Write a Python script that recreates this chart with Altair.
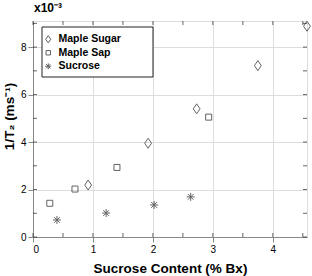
import altair as alt
import pandas as pd

# values in units of 1e-3 ms^-1
sugar_x = [0.92, 1.92, 2.73, 3.75, 4.57]
sugar_y = [2.19, 3.95, 5.40, 7.22, 8.88]
sap_x = [0.28, 0.70, 1.40, 2.93]
sap_y = [1.42, 2.02, 2.93, 5.05]
suc_x = [0.40, 1.22, 2.02, 2.63]
suc_y = [0.72, 1.01, 1.35, 1.69]
series = ["Maple Sugar", "Maple Sap", "Sucrose"]

x_ticks = [0, 0.5, 1, 1.5, 2, 2.5, 3, 3.5, 4, 4.5]
y_ticks = [0, 1, 2, 3, 4, 5, 6, 7, 8, 9]
x_labels = [0, 1, 2, 3, 4]
y_labels = [0, 2, 4, 6, 8]

W, H = 274, 216
FONT = "Liberation Sans"
INK = "#222222"

rows = []
for xs, ys, name in [(sugar_x, sugar_y, series[0]), (sap_x, sap_y, series[1]), (suc_x, suc_y, series[2])]:
    for a, b in zip(xs, ys):
        rows.append({"x": a, "y": b, "s": name})
df = pd.DataFrame(rows)

diamond = "M0,-1L0.68,0L0,1L-0.68,0Z"
square = "M-0.6,-0.6L0.6,-0.6L0.6,0.6L-0.6,0.6Z"
asterisk = "M-0.8,0L0.8,0M0,-0.8L0,0.8M-0.57,-0.57L0.57,0.57M-0.57,0.57L0.57,-0.57"

xscale = alt.Scale(domain=[0, 4.57], nice=False, zero=False)
yscale = alt.Scale(domain=[0, 9.1], nice=False, zero=False)

xaxis = alt.Axis(values=x_labels, title="Sucrose Content (% Bx)", format="d",
                 titlePadding=7, titleFontSize=13.5)
yaxis = alt.Axis(values=y_labels, title="1/T\u2082 (ms\u207b\u00b9)", format="d",
                 titlePadding=4, titleFontSize=13.5, titleY=95)

legend_box = alt.Chart(pd.DataFrame({"a": [0]})).mark_rect(
    fill="white", stroke=INK, strokeWidth=1
).encode(x=alt.value(9), x2=alt.value(120), y=alt.value(6), y2=alt.value(56))

points = alt.Chart(df).mark_point(filled=False, size=100, strokeWidth=1, color=INK).encode(
    x=alt.X("x:Q", scale=xscale, axis=xaxis),
    y=alt.Y("y:Q", scale=yscale, axis=yaxis),
    shape=alt.Shape("s:N", scale=alt.Scale(domain=series, range=[diamond, square, asterisk]),
                    legend=alt.Legend(orient="none", legendX=10, legendY=13, title=None,
                                      symbolSize=55, symbolStrokeColor=INK, symbolStrokeWidth=1,
                                      symbolFillColor="transparent",
                                      labelFont=FONT, labelFontWeight="bold", labelFontSize=10.5,
                                      labelColor="black", labelOffset=5, rowPadding=2.5, padding=0)),
)

xt = pd.DataFrame({"v": x_ticks})
yt = pd.DataFrame({"v": y_ticks})
tick_b = alt.Chart(xt).mark_tick(orient="vertical", size=4, thickness=1, color=INK).encode(
    x=alt.X("v:Q", scale=xscale), y=alt.value(H - 2))
tick_t = alt.Chart(xt).mark_tick(orient="vertical", size=4, thickness=1, color=INK).encode(
    x=alt.X("v:Q", scale=xscale), y=alt.value(2))
tick_l = alt.Chart(yt).mark_tick(orient="horizontal", size=4, thickness=1, color=INK).encode(
    y=alt.Y("v:Q", scale=yscale), x=alt.value(2))
tick_r = alt.Chart(yt).mark_tick(orient="horizontal", size=4, thickness=1, color=INK).encode(
    y=alt.Y("v:Q", scale=yscale), x=alt.value(W - 2))

exp_label = alt.Chart(pd.DataFrame({"t": ["x10\u207b\u00b3"]})).mark_text(
    align="left", baseline="middle", font=FONT, fontWeight="bold", fontSize=12, color="black"
).encode(text="t:N", x=alt.value(1), y=alt.value(-13))

chart = alt.layer(legend_box, tick_b, tick_t, tick_l, tick_r, points, exp_label).properties(
    width=W, height=H,
    autosize=alt.AutoSizeParams(type="none"),
    padding={"left": 33, "top": 21, "right": 5, "bottom": 39},
).configure_view(stroke=INK, strokeWidth=1).configure_axis(
    domain=False, ticks=False, grid=False,
    labelFont=FONT, labelFontWeight="bold", labelFontSize=12, labelColor="black", labelPadding=5,
    titleFont=FONT, titleFontWeight="bold", titleColor="black",
).configure(background="white")

chart.save("out.html", embed_options={"renderer": "svg", "actions": False})
